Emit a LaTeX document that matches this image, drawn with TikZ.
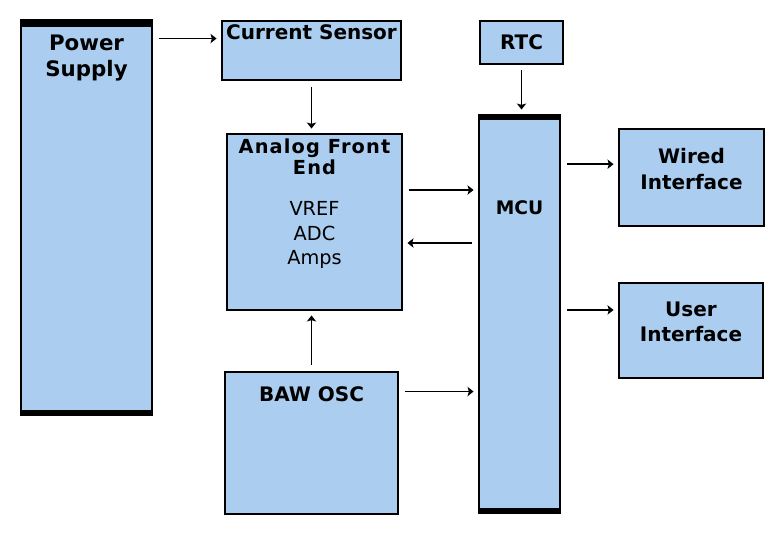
\documentclass[tikz,border=0pt]{standalone}
\usepackage{fontspec}
\setmainfont{DejaVu Sans}
\newfontfamily\afefont[LetterSpace=6]{DejaVu Sans}
\usetikzlibrary{positioning,arrows.meta}
\definecolor{blkblue}{RGB}{171,205,239}

\begin{document}
\begin{tikzpicture}[x=0.75pt,y=-0.75pt,
    arr/.style={-{Stealth[length=4.5pt,width=7pt,inset=1pt]},line width=1.1pt,shorten >=3pt,shorten <=4pt},
    blk/.style={draw,fill=blkblue,line width=2.2pt,inner sep=0pt},
    ttl/.style={font=\bfseries\fontsize{15}{19}\selectfont,align=center,inner sep=0pt},
    txt/.style={font=\fontsize{14.5}{18.4}\selectfont,align=center,inner sep=0pt}]
    \useasboundingbox (0,0) rectangle (777,542);

    \node[blk,minimum width=98.25pt,minimum height=296.25pt] (pwr) at (86.5,217.5) {};
    \node[blk,minimum width=134.25pt,minimum height=44.25pt] (cs) at (311.5,50.5) {};
    \node[blk,minimum width=131.25pt,minimum height=132pt] (afe) at (314.5,222) {};
    \node[blk,minimum width=129.75pt,minimum height=106.5pt] (baw) at (311.5,443) {};
    \node[blk,line width=1.5pt,minimum width=62.25pt,minimum height=32.25pt,
          font=\bfseries\fontsize{15}{19}\selectfont] (rtc) at (521.5,42.5) {RTC};
    \node[blk,minimum width=60.75pt,minimum height=298.5pt] (mcu) at (519.5,314) {};
    \node[blk,minimum width=108.75pt,minimum height=72.75pt] (wired) at (691.5,177.5) {};
    \node[blk,minimum width=108pt,minimum height=71.25pt] (user) at (691,330.5) {};

    \fill (pwr.north west) rectangle ([yshift=-6pt]pwr.north east);
    \fill (pwr.south west) rectangle ([yshift=5pt]pwr.south east);
    \fill (mcu.north west) rectangle ([yshift=-4.5pt]mcu.north east);
    \fill (mcu.south west) rectangle ([yshift=4.5pt]mcu.south east);

    \node[ttl,font=\bfseries\fontsize{16}{19.5}\selectfont,below=12pt of pwr.north] (pwrlbl) {Power\\Supply};
    \node[ttl,below=3.5pt of cs.north] (cslbl) {Current Sensor};
    \node[ttl,font=\afefont\bfseries\fontsize{14.5}{15.75}\selectfont,below=4.5pt of afe.north] (afelbl) {Analog Front\\End};
    \node[txt,below=51.5pt of afe.north] (afetxt) {VREF\\ADC\\Amps};
    \node[ttl,below=12pt of baw.north] (bawlbl) {BAW OSC};
    \node[ttl,font=\bfseries\fontsize{14}{18}\selectfont,below=65pt of mcu.north] (mculbl) {MCU};
    \node[ttl,below=15.75pt of wired.north] (wiredlbl) {Wired\\Interface};
    \node[ttl,below=15pt of user.north] (userlbl) {User\\Interface};

    \coordinate (p1) at ([yshift=-15pt]pwr.north east);
    \coordinate (a1) at ([yshift=24pt]afe.east);
    \coordinate (a2) at ([yshift=-15.75pt]afe.east);
    \coordinate (b1) at ([yshift=-15.75pt]baw.north east);
    \coordinate (w1) at ([yshift=10pt]wired.west);
    \coordinate (u1) at ([yshift=15.4pt]user.west);

    \draw[arr] (p1) -- (p1 -| cs.west);
    \draw[arr] (cs.south) -- (cs.south |- afe.north);
    \draw[arr] (a1) -- (a1 -| mcu.west);
    \draw[arr] (a2 -| mcu.west) -- (a2);
    \draw[arr] (baw.north) -- (baw.north |- afe.south);
    \draw[arr] (b1) -- (b1 -| mcu.west);
    \draw[arr,line width=0.8pt] (rtc.south) -- (rtc.south |- mcu.north);
    \draw[arr] (w1 -| mcu.east) -- (w1);
    \draw[arr] (u1 -| mcu.east) -- (u1);
\end{tikzpicture}
\end{document}
